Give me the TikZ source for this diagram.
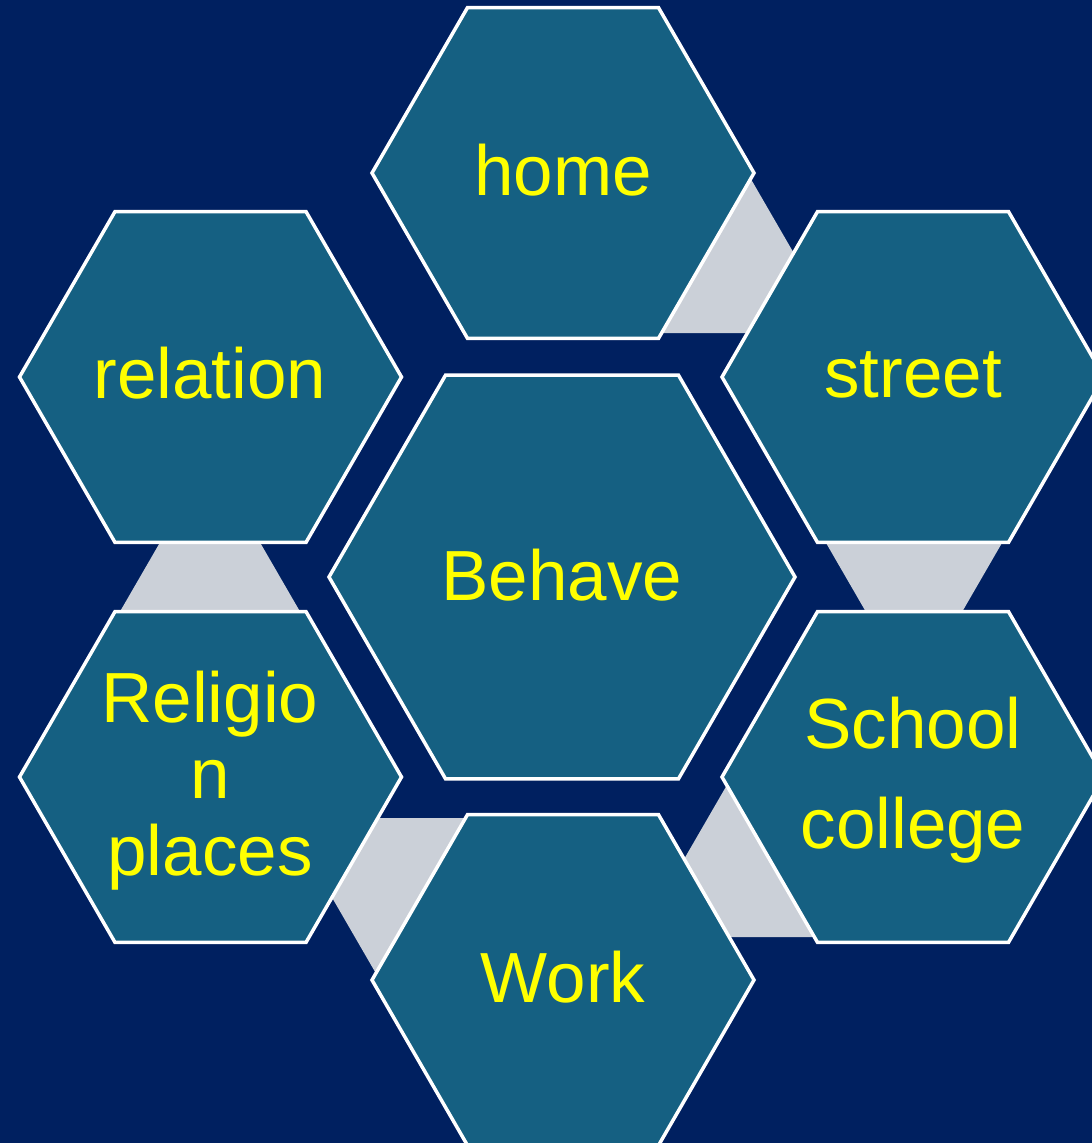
\documentclass[tikz,border=0pt]{standalone}
\usepackage{fontspec}
\setmainfont{Liberation Sans}
\usetikzlibrary{shapes.geometric}
\definecolor{navybg}{RGB}{0,32,96}
\definecolor{hexfill}{RGB}{21,96,130}
\definecolor{linkgray}{RGB}{203,208,216}
\definecolor{labelyellow}{RGB}{255,255,0}
\tikzset{
  hexa/.style={regular polygon, regular polygon sides=6, draw=white, line width=3.5pt,
    fill=hexfill, inner sep=0pt, outer sep=0pt},
  smallhex/.style={hexa, minimum size=382pt},
  bighex/.style={hexa, minimum size=466pt},
  lbl/.style={text=labelyellow, inner sep=0pt, anchor=base,
    font=\fontsize{71}{78}\selectfont},
  link/.style={fill=linkgray}
}
\begin{document}
\begin{tikzpicture}[x=1pt,y=-1pt]
\fill[navybg] (0,0) rectangle (1092,1143);
\useasboundingbox (0,0) rectangle (1092,1143);
\clip (0,0) rectangle (1092,1143);
% connectors
\fill[link] (656,333) -- (748,174) -- (840,333) -- cycle;
\fill[link] (822,536) -- (1006,536) -- (914,695) -- cycle;
\fill[link] (118,615) -- (210,456) -- (302,615) -- cycle;
\fill[link] (286,818) -- (470,818) -- (378,977) -- cycle;
\fill[link] (639,937) -- (731,778) -- (823,937) -- cycle;
% hexagons
\node[smallhex] (home) at (563,173) {};
\node[smallhex] (relation) at (210.5,377) {};
\node[smallhex] (street) at (913,377) {};
\node[bighex] (behave) at (562,577) {};
\node[smallhex] (religion) at (210.5,777) {};
\node[smallhex] (school) at (913,777) {};
\node[smallhex] (work) at (563,980) {};
% labels
\node[lbl] (thome) at (563,195) {home};
\node[lbl] (trelation) at (210,398) {relation};
\node[lbl] (tstreet) at (913,397) {street};
\node[lbl] (tbehave) at (562,600) {Behave};
\node[lbl] (trelia) at (210,722) {Religio};
\node[lbl] (trelib) at (210,798) {n};
\node[lbl] (trelic) at (210,875) {places};
\node[lbl] (tschoola) at (913,748) {School};
\node[lbl] (tschoolb) at (913,848) {college};
\node[lbl] (twork) at (563,1002) {Work};
\end{tikzpicture}
\end{document}
